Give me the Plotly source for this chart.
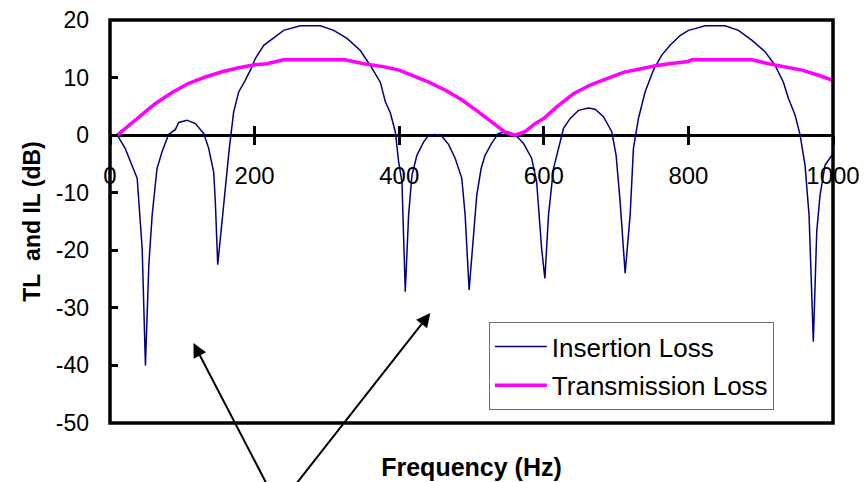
import plotly.graph_objects as go

# ---- data ----
il_freq = [10, 21, 37.6, 40, 44.5, 49, 53.7, 58.3, 65, 72, 81, 90.5, 95, 106.6, 118, 129.6,
           136.5, 143.4, 145.7, 149, 155, 159.6, 165, 171, 178, 187, 195, 201, 212.6, 226.4,
           240.2, 263, 291, 309.4, 327.8, 346.2, 360, 373.9, 380.8, 387.7, 394.6, 399.2,
           403.8, 408.4, 413, 417.6, 424.5, 433.7, 440.6, 449.8, 459, 468.2, 477.4, 486.6,
           491.2, 496.7, 502.7, 507.3, 513.3, 518.8, 528, 537.2, 548.7, 560.2, 571.7, 583.2,
           590.1, 597, 601.5, 606.5, 613.4, 620.3, 627.3, 636.5, 648, 661.8, 671, 682.5, 694,
           700, 705.6, 712.5, 719.4, 724, 730.9, 740.1, 751.6, 763.2, 774.7, 788.5, 800,
           809.3, 823.1, 850.7, 869.2, 887.6, 906, 919.9, 931.4, 938.3, 947.5, 954.4, 961.3,
           966.9, 972.8, 977.5, 982.1, 989, 1000]
il_db = [0, -2.3, -7.5, -11.6, -19.7, -40, -22.5, -13.9, -5.8, -2.9, 0.1, 1.0, 2.2, 2.6, 2.0, 0.3,
         -2.3, -6.4, -11.6, -22.5, -15, -8.1, -2.3, 4.0, 7.5, 9.5, 11.5, 13.3, 15.6, 16.9,
         18.2, 19.0, 19.0, 18.2, 16.8, 14.7, 12.1, 9.2, 5.8, 3.9, 0.6, -4.6,
         -8.1, -27.2, -13.9, -7.0, -3.5, -1.2, 0, 0.1, -0.2, -1.6, -4.0, -7.5,
         -13.9, -26.9, -16.8, -10.4, -5.8, -3.5, -1.4, 0.3, 0.6, 0.1, -1.4, -4.0,
         -8.1, -19.7, -24.9, -13.9, -5.8, -2.3, 1.2, 2.9, 4.3, 4.7, 4.5, 3.2, 0.6,
         -3.5, -11.6, -24.0, -13.9, -2.3, 2.9, 7.5, 11.3, 13.9, 15.6, 17.3, 18.2,
         18.5, 19.0, 19.0, 18.2, 16.5, 14.5, 12.1, 9.2, 6.4, 3.5, 0.1, -5.2,
         -13.9, -35.9, -16.8, -10.4, -5.2, -3.2]

tl_freq = [10, 39.8, 62.9, 85.9, 108.9, 131.9, 155, 178, 198, 217, 240, 286, 325, 351, 378,
           400, 418, 441, 464, 487, 510, 533, 546.5, 560, 574, 588, 601, 618, 641, 664, 687,
           710, 733, 756, 779, 800, 805, 842, 888, 911, 934, 957, 980, 1000]
tl_db = [0, 3.2, 5.5, 7.4, 9.0, 10.1, 11.0, 11.7, 12.2, 12.4, 13.1, 13.1, 13.1, 12.4, 11.9,
         11.3, 10.4, 9.2, 7.8, 6.1, 4.0, 1.7, 0.5, 0, 0.6, 2.0, 3.0, 4.9, 7.2, 8.7, 9.8,
         10.9, 11.5, 12.1, 12.5, 12.8, 13.1, 13.1, 13.1, 12.4, 11.9, 11.3, 10.4, 9.5]

x_ticks = [0, 200, 400, 600, 800, 1000]
y_ticks = [20, 10, 0, -10, -20, -30, -40, -50]
y_ticktext = ["20", "10", "0", "-10", "-20", "-30", "-40", "-50"]

# arrow annotations: tips and shared tail (data coords)
arrow_tips_x = [115.4, 443]
arrow_tips_y = [-36.1, -30.9]
arrow_tail = (232.9, -64.5)

FONT = "Liberation Sans, Arial, sans-serif"

fig = go.Figure()
fig.add_trace(go.Scatter(x=il_freq, y=il_db, mode="lines", name="Insertion Loss",
                         line=dict(color="#000080", width=1.5), legendgroup="a"))
fig.add_trace(go.Scatter(x=tl_freq, y=tl_db, mode="lines", name="Transmission Loss",
                         line=dict(color="#FF00FF", width=3.5), legendgroup="b"))
# helper traces so the zero-line tick axes are drawn
for ax in ["x2", "x3"]:
    fig.add_trace(go.Scatter(x=tl_freq, y=tl_db, xaxis=ax, mode="lines", opacity=0,
                             showlegend=False, hoverinfo="skip", line=dict(width=0)))

zero_pos = (0 - (-50)) / (20 - (-50))

fig.update_layout(
    width=865, height=482,
    margin=dict(l=110, r=32, t=20, b=59, autoexpand=False),
    paper_bgcolor="white", plot_bgcolor="white",
    font=dict(family=FONT, size=23, color="black"),
    showlegend=True,
    legend=dict(x=0.524, y=0.2506, xanchor="left", yanchor="top",
                bordercolor="#707070", borderwidth=1, bgcolor="white",
                font=dict(size=26), tracegroupgap=2, traceorder="grouped",
                itemwidth=52),
    xaxis=dict(range=[0, 1000], showticklabels=False, ticks="", showgrid=False,
               zeroline=False, showline=False, automargin=False,
               title=dict(text="<b>Frequency (Hz)</b>", font=dict(size=25), standoff=35)),
    xaxis2=dict(range=[0, 1000], overlaying="x", anchor="free", position=zero_pos,
                side="bottom", tickvals=x_ticks, ticktext=[str(v) for v in x_ticks],
                ticks="outside", ticklen=9, tickwidth=3, tickcolor="black",
                showgrid=False, zeroline=False, showline=False, automargin=False,
                tickfont=dict(size=24), ticklabelstandoff=10),
    xaxis3=dict(range=[0, 1000], overlaying="x", anchor="free", position=zero_pos,
                side="bottom", tickvals=x_ticks, ticks="inside", ticklen=9, tickwidth=3,
                tickcolor="black", showticklabels=False, showgrid=False, automargin=False,
                zeroline=False, showline=False),
    yaxis=dict(range=[-50, 20], tickvals=y_ticks, ticktext=y_ticktext, ticks="inside",
               ticklen=8, tickwidth=3, automargin=False,
               tickcolor="black", showgrid=False, zeroline=True, zerolinecolor="black",
               zerolinewidth=3, showline=False, ticklabelstandoff=20,
               tickfont=dict(size=23),
               title=dict(text="<b>TL\u00a0 and IL (dB)</b>", font=dict(size=23), standoff=8)),
    shapes=[dict(type="rect", xref="paper", yref="paper", x0=0, x1=1, y0=0, y1=1,
                 line=dict(color="black", width=3.5), layer="above")],
)

for tx, ty in zip(arrow_tips_x, arrow_tips_y):
    fig.add_annotation(x=tx, y=ty, xref="x", yref="y", ax=arrow_tail[0], ay=arrow_tail[1],
                       axref="x", ayref="y", text="", showarrow=True, arrowhead=2,
                       arrowsize=1.4, arrowwidth=2, arrowcolor="black", standoff=0)

fig.write_html("out.html", config={"displayModeBar": False},
               post_script="document.body.style.margin='0';document.body.style.overflow='hidden';")
